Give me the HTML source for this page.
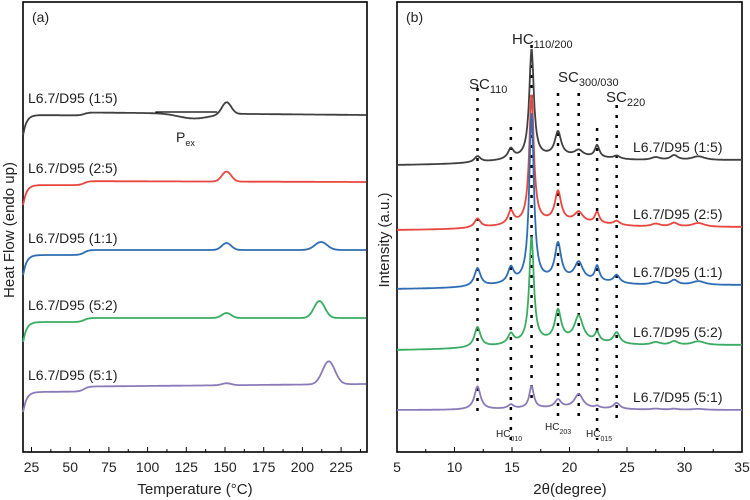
<!DOCTYPE html>
<html><head><meta charset="utf-8"><style>
html,body{margin:0;padding:0;background:#fff;}
svg{display:block;font-family:"Liberation Sans",Arial,sans-serif;}
</style></head><body>
<svg id="fig" width="750" height="500" viewBox="0 0 750 500">
<g id="pa"></g>
<g id="pb"></g>
</svg>
<script>
// ---------- DSC data (panel a) ----------
const dscLabels = ["L6.7/D95 (1:5)","L6.7/D95 (2:5)","L6.7/D95 (1:1)","L6.7/D95 (5:2)","L6.7/D95 (5:1)"];
const dscColors = ["#404040","#e8463f","#2e6db4","#3aac62","#8a7bb8"];
const dscOffsets = [337,267,197,130,60];      // baseline heat flow level (a.u.)
const dscEndDrift = [-3,-1,0,0,3];
const dscStep = [3,4,5,4,5];                     // glass step at ~60°C
const dscPeakPos = [[130,151],[151],[151,212],[151,211],[151,217]];
const dscPeakH = [[-5,12],[10],[7,8],[5,17],[2,23]];
const dscPeakW = [[10,3],[3],[3,4],[3,3.5],[3,4]];
const tempTicks = [25,50,75,100,125,150,175,200,225];

// ---------- XRD data (panel b) ----------
const xrdLabels = dscLabels;
const xrdColors = dscColors;
const xrdPeakPos = [12.0,14.9,16.7,19.0,20.8,22.4,24.1,27.5,29.1,31.2];
const xrdBaseL = [287,222,163,102,42];
const xrdBaseR = [292,225,167,107,42];
const xrdPeakH = [
 [6,10,108,24,6,12,3,3,5,4],
 [9,13,128,30,10,11,4,3,4,4],
 [18,15,168,36,18,15,8,3,5,4],
 [20,10,105,30,25,9,11,3,4,4],
 [23,4,22,8,14,2,6,1,1,1]
];
const xrdWidth = [0.32,0.3,0.24,0.33,0.45,0.24,0.33,0.5,0.4,0.7];
const twoThetaTicks = [5,10,15,20,25,30,35];
const dotPos = [12.0,14.9,16.7,19.0,20.8,22.4,24.1];
const dotTop = [364,325,407,359,359,324,347];
const dotBot = [34,12,47,32,32,12,32];

const NS="http://www.w3.org/2000/svg";
function el(tag,attrs,parent){const e=document.createElementNS(NS,tag);for(const k in attrs)e.setAttribute(k,attrs[k]);parent.appendChild(e);return e;}

// ---- panel a axes ----
const A={x0:23,x1:367,y0:2,y1:452};
const ax=t=>31.5+(t-25)*1.548;
const ay=v=>A.y1-v;
const pa=document.getElementById('pa');
let r=el('rect',{x:A.x0,y:A.y0,width:A.x1-A.x0,height:A.y1-A.y0,fill:'none',stroke:'#000','stroke-width':1.6},pa);

for(let t=25;t<=240;t+=12.5){const major=(t%25===0);
 const l=el('line',{x1:ax(t),x2:ax(t),y1:A.y1,y2:A.y1-(major?5:3),stroke:'#000','stroke-width':1},pa);
 }
tempTicks.forEach(t=>{const tx=el('text',{x:ax(t),y:472,'font-size':14,'text-anchor':'middle',fill:'#222'},pa);tx.textContent=t;
 });
let tt=el('text',{x:195,y:494,'font-size':15,'text-anchor':'middle',fill:'#222'},pa);tt.textContent='Temperature (°C)';

tt=el('text',{x:0,y:0,'font-size':15,'text-anchor':'middle',fill:'#222',transform:'translate(14,230) rotate(-90)'},pa);tt.textContent='Heat Flow (endo up)';

tt=el('text',{x:32,y:22,'font-size':14,fill:'#222'},pa);tt.textContent='(a)';


dscLabels.forEach((lab,i)=>{
 let d='';
 for(let t=19.6;t<=241.5;t+=0.4){
  let v=dscOffsets[i]+dscEndDrift[i]*(t-25)/215;
  v-=20*Math.exp(-(t-19.6)/2.2);
  v+=dscStep[i]/(1+Math.exp(-(t-59)/1.5));
  dscPeakPos[i].forEach((p,k)=>{v+=dscPeakH[i][k]*Math.exp(-0.5*Math.pow((t-p)/dscPeakW[i][k],2));});
  d+=(d?'L':'M')+ax(t).toFixed(1)+','+ay(v).toFixed(1);
 }
 const p=el('path',{d:d,fill:'none',stroke:dscColors[i],'stroke-width':1.8},pa);
 
 const lt=el('text',{x:28,y:ay(dscOffsets[i])-12,'font-size':14,fill:'#222'},pa);lt.textContent=lab;
 
});
let pl=el('line',{x1:ax(105),x2:ax(145),y1:ay(340),y2:ay(340),stroke:'#000','stroke-width':1.2},pa);

let pt=el('text',{x:176,y:142,'font-size':14,fill:'#222'},pa);pt.innerHTML='P<tspan font-size="9" dy="4">ex</tspan>';


// ---- panel b ----
const B={x0:397,x1:742,y0:2,y1:452};
const bx=t=>B.x0+(t-5)*(B.x1-B.x0)/30;
const by=v=>B.y1-v;
const pb=document.getElementById('pb');
r=el('rect',{x:B.x0,y:B.y0,width:B.x1-B.x0,height:B.y1-B.y0,fill:'none',stroke:'#000','stroke-width':1.6},pb);

for(let t=5;t<=35;t+=2.5){const major=(t%5===0);
 const l=el('line',{x1:bx(t),x2:bx(t),y1:B.y1,y2:B.y1-(major?5:3),stroke:'#000','stroke-width':1},pb);
 }
twoThetaTicks.forEach(t=>{const tx=el('text',{x:bx(t),y:472,'font-size':14,'text-anchor':'middle',fill:'#222'},pb);tx.textContent=t;
 });
tt=el('text',{x:570,y:494,'font-size':15,'text-anchor':'middle',fill:'#222'},pb);tt.textContent='2θ(degree)';

tt=el('text',{x:0,y:0,'font-size':15,'text-anchor':'middle',fill:'#222',transform:'translate(389,240) rotate(-90)'},pb);tt.textContent='Intensity (a.u.)';

tt=el('text',{x:406,y:22,'font-size':14,fill:'#222'},pb);tt.textContent='(b)';


dotPos.forEach((p,i)=>{
 const l=el('line',{x1:bx(p),x2:bx(p),y1:by(dotTop[i]),y2:by(dotBot[i]),stroke:'#000','stroke-width':2.5,'stroke-dasharray':'3,7'},pb);
 
});
xrdLabels.forEach((lab,i)=>{
 let d='';
 for(let t=5;t<=35.001;t+=0.04){
  let v=xrdBaseL[i]+(xrdBaseR[i]-xrdBaseL[i])*(t-5)/30;
  v+=6*Math.exp(-0.5*Math.pow((t-19)/4,2))*(i<4?1:0.3);
  xrdPeakPos.forEach((p,k)=>{v+=xrdPeakH[i][k]/(1+Math.pow((t-p)/xrdWidth[k],2));});
  d+=(d?'L':'M')+bx(t).toFixed(1)+','+by(v).toFixed(1);
 }
 const p=el('path',{d:d,fill:'none',stroke:xrdColors[i],'stroke-width':1.8},pb);
 
 const lt=el('text',{x:633,y:by(xrdBaseR[i])-8,'font-size':14,fill:'#222'},pb);lt.textContent=lab;
 
});
function sublabel(x,y,main,sub,fs,name){const t=el('text',{x:x,y:y,'font-size':fs,fill:'#222'},pb);
 t.innerHTML=main+'<tspan font-size="'+Math.round(fs*0.7)+'" dy="4">'+sub+'</tspan>';
 }
sublabel(469,89,'SC','110',15,'sc110-label');
sublabel(512,44,'HC','110/200',15,'hc110-label');
sublabel(558,82,'SC','300/030',15,'sc300-label');
sublabel(606,102,'SC','220',15,'sc220-label');
sublabel(496,437,'HC','010',10,'hc010-label');
sublabel(545,430,'HC','203',10,'hc203-label');
sublabel(586,437,'HC','015',10,'hc015-label');
</script>
</body></html>
